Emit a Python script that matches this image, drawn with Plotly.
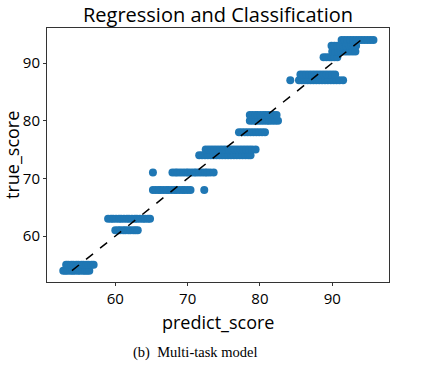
import plotly.graph_objects as go

true_levels = [54, 55, 61, 63, 68, 71, 74, 75, 78, 80, 81, 87, 88, 91, 92, 93, 94]

pred_54 = [52.8, 53.1, 53.4, 53.8, 54.1, 54.4, 54.8, 55.1, 55.5, 55.8, 56.1, 56.4]
pred_55 = [53.2, 53.5, 53.9, 54.2, 54.6, 54.9, 55.3, 55.6, 56.0, 56.3, 56.7, 57.0]
pred_61 = [60.0, 60.4, 60.7, 61.1, 61.4, 61.8, 62.1, 62.5, 62.8, 63.1]
pred_63 = [59.0, 59.4, 59.7, 60.1, 60.5, 60.8, 61.2, 61.6, 61.9, 62.3, 62.7, 63.0, 63.4, 63.8, 64.1, 64.5, 64.8]
pred_68 = [65.2, 65.6, 66.0, 66.3, 66.7, 67.1, 67.4, 67.8, 68.2, 68.5, 68.9, 69.3, 69.6, 70.0, 70.4, 72.3]
pred_71 = [65.2, 67.9, 68.3, 68.6, 69.0, 69.4, 69.8, 70.1, 70.5, 70.9, 71.2, 71.6, 72.0, 72.4, 72.7, 73.1, 73.6]
pred_74 = [71.6, 72.0, 72.4, 72.8, 73.2, 73.6, 74.0, 74.4, 74.8, 75.2, 75.6, 76.0, 76.4, 76.8, 77.2, 77.6, 78.0, 78.4, 78.7]
pred_75 = [72.5, 72.9, 73.3, 73.7, 74.1, 74.5, 74.9, 75.3, 75.7, 76.1, 76.5, 76.9, 77.3, 77.7, 78.1, 78.5, 78.9, 79.4]
pred_78 = [77.1, 77.5, 77.9, 78.3, 78.7, 79.1, 79.5, 79.9, 80.3, 80.7]
pred_80 = [78.6, 79.0, 79.4, 79.8, 80.2, 80.6, 81.0, 81.3, 81.7, 82.1, 82.5]
pred_81 = [78.6, 79.0, 79.4, 79.7, 80.1, 80.5, 80.8, 81.2, 81.6, 81.9, 82.3]
pred_87 = [84.2, 85.4, 85.8, 86.2, 86.6, 87.0, 87.4, 87.8, 88.2, 88.6, 89.0, 89.4, 89.8, 90.2, 90.6, 91.0, 91.5]
pred_88 = [85.6, 86.0, 86.4, 86.8, 87.2, 87.6, 88.0, 88.4, 88.8, 89.2, 89.6, 90.0, 90.4]
pred_91 = [88.8, 89.2, 89.6, 89.9, 90.3, 90.7]
pred_92 = [90.0, 90.4, 90.8, 91.2, 91.6, 92.0, 92.4, 92.8, 93.2]
pred_93 = [89.9, 90.3, 90.7, 91.1, 91.5, 91.9, 92.3, 92.7, 93.0, 93.3]
pred_94 = [91.3, 91.7, 92.1, 92.5, 92.9, 93.3, 93.7, 94.1, 94.5, 94.9, 95.3, 95.7]

pred_rows = [pred_54, pred_55, pred_61, pred_63, pred_68, pred_71, pred_74, pred_75,
             pred_78, pred_80, pred_81, pred_87, pred_88, pred_91, pred_92, pred_93, pred_94]

diag_line = [54, 94]
x_ticks = [60, 70, 80, 90]
y_ticks = [60, 70, 80, 90]

xs, ys = [], []
for lvl, row in zip(true_levels, pred_rows):
    xs.extend(row)
    ys.extend([lvl] * len(row))

fig = go.Figure()
fig.add_trace(go.Scatter(x=xs, y=ys, mode="markers",
                         marker=dict(color="#1f77b4", size=8, line=dict(width=0)),
                         showlegend=False))
fig.add_trace(go.Scatter(x=diag_line, y=diag_line, mode="lines",
                         line=dict(color="black", width=1.5, dash="dash"),
                         showlegend=False))

axis_common = dict(showline=True, linecolor="#333333", linewidth=1, mirror=True,
                   ticks="outside", ticklen=3, tickcolor="#333333", showgrid=False,
                   zeroline=False, tickfont=dict(family="Open Sans", size=15, color="black"))

PW, PH = 342, 254
fig.update_layout(
    width=421, height=366,
    margin=dict(l=47, r=32, t=28, b=84),
    plot_bgcolor="white", paper_bgcolor="white",
    title=dict(text="Regression and Classification", x=218 / 421, xanchor="center",
               y=1 - 15 / 366, yanchor="middle", yref="container", xref="container",
               font=dict(family="Open Sans", size=20, color="black")),
    xaxis=dict(range=[50.55, 97.85], tickvals=x_ticks, **axis_common),
    yaxis=dict(range=[52.03, 96.07], tickvals=y_ticks, **axis_common),
    annotations=[
        dict(text="predict_score", xref="paper", yref="paper",
             x=(218 - 47) / PW, y=-(322 - 282) / PH, xanchor="center", yanchor="middle",
             showarrow=False, font=dict(family="Open Sans", size=18, color="black")),
        dict(text="true_score", xref="paper", yref="paper", textangle=-90,
             x=(12 - 47) / PW, y=(282 - 155) / PH, xanchor="center", yanchor="middle",
             showarrow=False, font=dict(family="Open Sans", size=18, color="black")),
        dict(text="(b)  Multi-task model", xref="paper", yref="paper",
             x=(195 - 47) / PW, y=-(352 - 282) / PH, xanchor="center", yanchor="middle",
             showarrow=False, font=dict(family="Liberation Serif", size=14.5, color="black")),
    ],
)

fig.write_html("out.html")
